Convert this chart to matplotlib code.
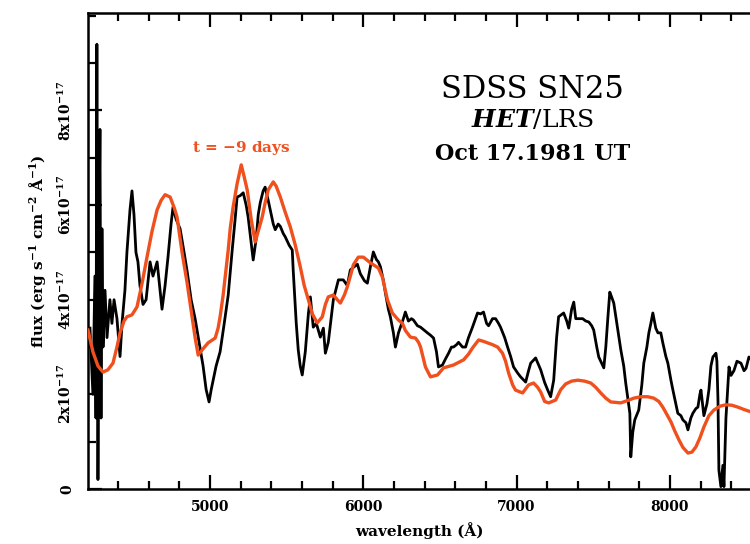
import matplotlib
matplotlib.use("Agg")
import matplotlib.pyplot as plt
import numpy as np
from matplotlib.ticker import MultipleLocator, FixedLocator

# ── data (flux in units of 1e-17 erg/s/cm2/A) ────────────────────────────────
obs_wave = [4216, 4235, 4248, 4255, 4261, 4268, 4274, 4281, 4288, 4294, 4301, 4314,
            4327, 4346, 4359, 4373, 4392, 4412, 4425, 4444, 4457, 4477, 4490, 4503,
            4516, 4529, 4542, 4562, 4582, 4608, 4627, 4654, 4673, 4686, 4706, 4725,
            4745, 4758, 4778, 4804, 4830, 4850, 4876, 4902, 4928, 4954, 4974, 4993,
            5007, 5020, 5039, 5065, 5092, 5118, 5144, 5163, 5176, 5196, 5216, 5235,
            5248, 5268, 5281, 5301, 5314, 5327, 5346, 5359, 5379, 5392, 5412, 5425,
            5444, 5458, 5477, 5490, 5516, 5536, 5542, 5562, 5575, 5588, 5601, 5621,
            5641, 5654, 5673, 5693, 5719, 5739, 5752, 5771, 5804, 5837, 5869, 5895,
            5915, 5941, 5961, 5980, 6007, 6026, 6046, 6065, 6085, 6098, 6111, 6131,
            6144, 6163, 6176, 6196, 6209, 6229, 6242, 6261, 6274, 6294, 6314, 6327,
            6353, 6373, 6399, 6418, 6438, 6458, 6477, 6490, 6516, 6536, 6556, 6575,
            6588, 6608, 6621, 6647, 6667, 6686, 6712, 6732, 6745, 6765, 6784, 6804,
            6817, 6843, 6863, 6882, 6895, 6922, 6941, 6961, 6980, 7007, 7026, 7059,
            7078, 7092, 7124, 7157, 7183, 7203, 7222, 7242, 7261, 7274, 7307, 7327,
            7340, 7359, 7373, 7386, 7405, 7431, 7451, 7471, 7490, 7503, 7523, 7536,
            7556, 7569, 7582, 7595, 7608, 7621, 7634, 7654, 7680, 7699, 7712, 7739,
            7745, 7758, 7771, 7797, 7817, 7830, 7850, 7863, 7876, 7889, 7908, 7922,
            7941, 7954, 7974, 7987, 8007, 8020, 8039, 8052, 8072, 8085, 8105, 8118,
            8137, 8150, 8170, 8183, 8196, 8203, 8222, 8242, 8255, 8268, 8281, 8301,
            8307, 8314, 8320, 8333, 8346, 8353, 8366, 8386, 8399, 8418, 8438, 8464,
            8484, 8497, 8516, 8542]
obs_flux = [3.4, 2.0, 4.5, 1.5, 9.4, 0.2, 5.0, 7.6, 1.5, 5.5, 3.0, 4.2,
            3.2, 4.0, 3.5, 4.0, 3.6, 2.8, 3.5, 4.2, 5.0, 5.9, 6.3, 5.8,
            5.0, 4.8, 4.3, 3.9, 4.0, 4.8, 4.5, 4.8, 4.2, 3.8, 4.3, 4.9,
            5.6, 5.96, 5.7, 5.5, 5.0, 4.6, 4.0, 3.6, 3.1, 2.6, 2.1, 1.84,
            2.1, 2.3, 2.6, 2.9, 3.5, 4.1, 5.05, 5.7, 6.17, 6.2, 6.26, 6.0,
            5.75, 5.2, 4.84, 5.3, 5.8, 6.05, 6.3, 6.38, 6.1, 5.9, 5.6, 5.48,
            5.6, 5.55, 5.4, 5.33, 5.15, 5.05, 4.63, 3.5, 2.94, 2.6, 2.41, 2.9,
            3.7, 4.06, 3.42, 3.5, 3.21, 3.4, 2.87, 3.1, 4.0, 4.42, 4.42, 4.3,
            4.63, 4.7, 4.75, 4.55, 4.4, 4.35, 4.7, 5.01, 4.85, 4.8, 4.7, 4.4,
            4.14, 3.8, 3.64, 3.3, 3.0, 3.3, 3.42, 3.6, 3.74, 3.55, 3.6, 3.57,
            3.45, 3.42, 3.35, 3.3, 3.25, 3.19, 2.9, 2.58, 2.62, 2.75, 2.87, 3.0,
            3.0, 3.05, 3.1, 3.0, 3.0, 3.2, 3.42, 3.6, 3.72, 3.7, 3.74, 3.5,
            3.45, 3.6, 3.6, 3.5, 3.42, 3.2, 3.0, 2.8, 2.58, 2.45, 2.37, 2.26,
            2.5, 2.66, 2.77, 2.52, 2.25, 2.09, 1.95, 2.3, 3.2, 3.64, 3.72, 3.55,
            3.4, 3.8, 3.95, 3.6, 3.6, 3.6, 3.55, 3.53, 3.45, 3.36, 3.0, 2.79,
            2.65, 2.56, 3.0, 3.6, 4.16, 4.05, 3.93, 3.5, 2.94, 2.6, 2.24, 1.6,
            0.68, 1.2, 1.46, 1.67, 2.2, 2.66, 3.0, 3.3, 3.5, 3.72, 3.4, 3.3,
            3.3, 3.09, 2.8, 2.66, 2.3, 2.09, 1.8, 1.6, 1.55, 1.46, 1.4, 1.25,
            1.5, 1.6, 1.7, 1.73, 2.0, 2.09, 1.55, 1.8, 2.1, 2.6, 2.79, 2.87,
            2.7, 1.88, 0.4, 0.05, 0.5, 0.05, 1.5, 2.58, 2.4, 2.5, 2.7, 2.66,
            2.5, 2.55, 2.79, 2.7]

model_wave = [4203, 4235, 4268, 4301, 4333, 4366, 4392, 4412, 4438, 4457, 4490, 4523,
              4556, 4588, 4621, 4654, 4680, 4706, 4739, 4765, 4784, 4817, 4850, 4882,
              4902, 4922, 4948, 4987, 5033, 5052, 5065, 5085, 5098, 5118, 5131, 5150,
              5176, 5203, 5222, 5242, 5268, 5294, 5314, 5340, 5359, 5379, 5412, 5431,
              5458, 5490, 5523, 5556, 5588, 5614, 5641, 5667, 5699, 5732, 5752, 5771,
              5804, 5830, 5850, 5876, 5895, 5915, 5935, 5967, 6000, 6046, 6098, 6124,
              6157, 6189, 6229, 6255, 6274, 6307, 6340, 6360, 6373, 6405, 6438, 6484,
              6523, 6588, 6654, 6686, 6712, 6752, 6784, 6810, 6843, 6876, 6908, 6928,
              6948, 6974, 6993, 7039, 7078, 7111, 7137, 7157, 7183, 7209, 7255, 7288,
              7320, 7359, 7399, 7444, 7484, 7516, 7549, 7582, 7614, 7680, 7725, 7765,
              7810, 7856, 7895, 7928, 7954, 7980, 8007, 8033, 8059, 8085, 8118, 8144,
              8170, 8196, 8222, 8255, 8288, 8327, 8366, 8405, 8444, 8484, 8529]
model_flux = [3.36, 2.9, 2.6, 2.47, 2.52, 2.66, 3.0, 3.3, 3.55, 3.64, 3.68, 3.85,
              4.35, 4.9, 5.45, 5.9, 6.1, 6.22, 6.17, 5.95, 5.75, 5.0, 4.35, 3.64,
              3.2, 2.83, 2.94, 3.09, 3.19, 3.4, 3.64, 4.1, 4.48, 5.05, 5.5, 5.96,
              6.45, 6.85, 6.6, 6.32, 5.7, 5.22, 5.45, 5.75, 6.05, 6.32, 6.49, 6.4,
              6.17, 5.85, 5.54, 5.15, 4.7, 4.3, 4.0, 3.7, 3.51, 3.64, 3.9, 4.06,
              4.1, 4.0, 3.93, 4.1, 4.27, 4.5, 4.74, 4.9, 4.9, 4.78, 4.67, 4.48,
              4.0, 3.72, 3.57, 3.5, 3.35, 3.21, 3.19, 3.1, 3.0, 2.58, 2.37, 2.41,
              2.56, 2.62, 2.73, 2.85, 2.98, 3.15, 3.12, 3.09, 3.05, 3.0, 2.87, 2.7,
              2.45, 2.2, 2.09, 2.03, 2.2, 2.24, 2.15, 2.05, 1.85, 1.82, 1.88, 2.1,
              2.22, 2.28, 2.3, 2.28, 2.24, 2.15, 2.03, 1.92, 1.84, 1.82, 1.87, 1.92,
              1.95, 1.95, 1.92, 1.85, 1.73, 1.58, 1.42, 1.22, 1.04, 0.88, 0.76, 0.78,
              0.89, 1.08, 1.31, 1.55, 1.67, 1.75, 1.78, 1.77, 1.73, 1.68, 1.63]

ytick_vals = [0, 2, 4, 6, 8]
ytick_text = ["0", "2x10$^{-17}$", "4x10$^{-17}$", "6x10$^{-17}$", "8x10$^{-17}$"]
xtick_vals = [5000, 6000, 7000, 8000]

# ── style ───────────────────────────────────────────────────────────────────
plt.rcParams["font.family"] = "DejaVu Serif"
plt.rcParams["font.weight"] = "bold"
plt.rcParams["mathtext.fontset"] = "dejavuserif"
plt.rcParams["mathtext.default"] = "bf"

orange = "#f0501e"

fig = plt.figure(figsize=(7.5, 5.44), dpi=100)
ax = fig.add_axes([88 / 750, 55 / 544, 662 / 750, 476 / 544])

ax.plot(obs_wave, obs_flux, color="black", lw=2.0, zorder=3)
ax.plot(model_wave, model_flux, color=orange, lw=2.4, zorder=4)

ax.set_xlim(4203, 8523)
ax.set_ylim(0, 10.06)

ax.xaxis.set_major_locator(FixedLocator(xtick_vals))
ax.xaxis.set_minor_locator(MultipleLocator(200))
ax.yaxis.set_major_locator(FixedLocator(ytick_vals))
ax.yaxis.set_minor_locator(MultipleLocator(1))
ax.set_xticklabels([str(v) for v in xtick_vals], fontsize=10, fontweight="bold")
ax.set_yticklabels(ytick_text, fontsize=10, fontweight="bold", rotation=90, va="center")

ax.tick_params(which="both", direction="in", top=True, right=False, width=1.6)
ax.tick_params(which="major", length=10)
ax.tick_params(which="minor", length=6)
ax.tick_params(axis="x", which="major", pad=8)
ax.tick_params(axis="y", which="major", pad=10)
for side in ["left", "bottom", "top"]:
    ax.spines[side].set_linewidth(1.8)
ax.spines["right"].set_visible(False)

ax.set_xlabel("wavelength (Å)", fontsize=11, fontweight="bold", labelpad=6)
ax.set_ylabel("flux (erg s$^{-1}$ cm$^{-2}$ Å$^{-1}$)", fontsize=11,
              fontweight="bold", labelpad=6)

# annotations
ax.text(5203, 7.21, "t = $-$9 days", color=orange, fontsize=11, fontweight="bold",
        ha="center", va="center")
ax.text(7105, 8.44, "SDSS SN25", fontsize=22, fontweight="normal", ha="center", va="center")
ax.text(7105, 7.80, "$\\mathbfit{HET}$/LRS", fontsize=18, fontweight="normal",
        ha="center", va="center")
ax.text(7105, 7.08, "Oct 17.1981 UT", fontsize=16, fontweight="bold", ha="center", va="center")

fig.savefig("out.png", dpi=100)
